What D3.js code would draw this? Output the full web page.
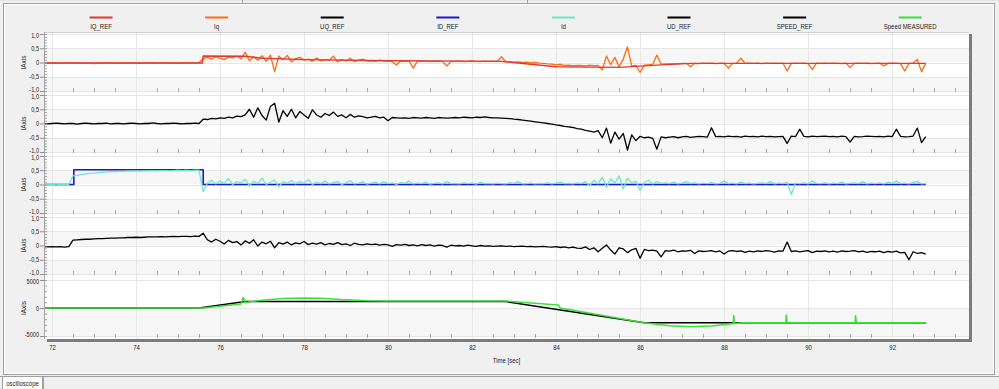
<!DOCTYPE html>
<html><head><meta charset="utf-8">
<script src="https://cdn.jsdelivr.net/npm/d3@7"></script>
<style>
html,body{margin:0;padding:0;background:#f0f0f0;overflow:hidden}
svg{display:block}
text{font-family:"Liberation Sans","Arial",sans-serif;fill:#222;font-size:7.5px}
</style></head><body><svg id="c" width="999" height="389"></svg>
<script>
// ---------- DATA ----------
const seriesNames = ["IQ_REF","Iq","UQ_REF","ID_REF","Id","UD_REF","SPEED_REF","Speed MEASURED"];
const seriesColors = ["#e03a2f","#ff6a13","#000000","#1a1ad6","#6de9c8","#000000","#000000","#3be03b"];
const xTicks = [72,74,76,78,80,82,84,86,88,90,92];
const yTicksUnit = [-1,-0.5,0,0.5,1];
const yTicksSpeed = [-5000,0,5000];
const axisTitleY = "IAxis";
const axisTitleX = "Time [sec]";
const tabLabel = "oscilloscope";

// dense sampled signals: start time and sample spacing (sec)
const T0 = 71.8, DT = 0.1;
const iq = [
-0.02,-0.02,-0.01,-0.02,-0.03,-0.02,-0.02,-0.01,-0.02,-0.03,
-0.02,-0.02,-0.04,-0.02,-0.02,-0.01,-0.02,-0.03,-0.02,-0.02,
-0.02,-0.01,-0.02,-0.03,-0.02,-0.02,-0.01,-0.02,-0.02,-0.01,
-0.02,-0.02,-0.03,-0.01,-0.02,-0.02,-0.02,-0.01,
0.14,0.18,0.12,0.2,0.15,0.1,0.19,0.16,0.22,0.13,
0.36,0.06,0.2,0.08,0.24,0.04,0.26,-0.32,0.22,0.1,
0.25,0.02,0.14,0.18,0.08,0.12,0.04,0.16,0.06,0.1,
0.08,0.22,0.02,0.1,0.05,0.15,0.03,0.08,0.12,0.05,
0.06,0.04,0.08,0.05,0.06,0.03,-0.09,0.05,0.04,0.06,
-0.2,0.05,0.04,0.05,0.03,0.04,0.05,0.03,-0.12,0.04,
0.04,0.05,0.03,0.04,0.06,0.04,0.03,0.05,0.04,0.05,
0.04,0.2,0.03,0.02,0.01,0.02,0.0,0.01,-0.01,0.0,
-0.02,-0.03,-0.05,-0.06,-0.08,-0.07,-0.1,-0.09,-0.11,-0.1,
-0.1,-0.12,-0.09,-0.11,-0.1,-0.26,0.23,-0.08,0.18,-0.15,
0.12,0.55,-0.12,-0.1,-0.35,-0.09,-0.08,-0.07,0.26,-0.06,
-0.05,-0.05,-0.04,-0.04,-0.03,-0.03,-0.15,-0.03,-0.04,-0.02,
-0.03,-0.02,-0.04,-0.03,-0.02,-0.2,-0.03,-0.02,0.15,-0.03,
-0.02,-0.03,-0.02,-0.04,-0.02,-0.03,-0.02,-0.03,-0.02,-0.3,
-0.03,-0.02,-0.03,-0.02,-0.04,-0.25,-0.02,-0.03,-0.02,-0.03,
-0.02,-0.03,-0.04,-0.02,-0.18,-0.03,-0.02,-0.03,-0.02,-0.04,
-0.03,-0.02,-0.12,-0.03,-0.02,-0.03,-0.04,-0.3,-0.03,-0.02,
0.11,-0.32,-0.03];
const uqRef = [
0.0,-0.01,0.0,0.01,0.0,-0.01,0.0,0.0,-0.02,0.0,
0.01,0.0,-0.01,0.0,0.0,0.01,-0.01,0.0,0.0,-0.01,
0.0,0.01,0.0,-0.01,0.0,0.0,0.02,0.0,-0.01,0.0,
0.0,0.01,0.0,-0.01,0.0,0.0,0.01,0.0,
0.15,0.14,0.18,0.16,0.2,0.18,0.22,0.2,0.26,0.24,
0.3,0.5,0.22,0.55,0.28,0.12,0.6,0.71,0.05,0.45,
0.25,0.5,0.2,0.42,0.3,0.18,0.48,0.3,0.22,0.35,
0.28,0.4,0.25,0.3,0.2,0.32,0.22,0.27,0.24,0.2,
0.22,0.25,0.2,0.22,0.1,0.21,0.2,0.19,0.2,0.18,
0.21,0.2,0.19,0.21,0.2,0.18,0.21,0.2,0.19,0.2,
0.21,0.2,0.22,0.21,0.2,0.22,0.21,0.23,0.21,0.2,
0.2,0.19,0.18,0.17,0.15,0.14,0.12,0.1,0.08,0.06,
0.04,0.02,0.0,-0.02,-0.05,-0.07,-0.1,-0.12,-0.14,-0.18,
-0.2,-0.24,-0.27,-0.3,-0.25,-0.5,-0.16,-0.69,-0.3,-0.55,
-0.35,-0.93,-0.4,-0.6,-0.45,-0.5,-0.48,-0.52,-0.9,-0.47,
-0.5,-0.48,-0.46,-0.5,-0.47,-0.45,-0.49,-0.47,-0.45,-0.46,
-0.48,-0.15,-0.46,-0.45,-0.47,-0.44,-0.46,-0.45,-0.48,-0.44,
-0.46,-0.45,-0.47,-0.44,-0.46,-0.45,-0.47,-0.46,-0.45,-0.7,
-0.44,-0.46,-0.2,-0.45,-0.47,-0.44,-0.46,-0.45,-0.44,-0.46,
-0.45,-0.47,-0.44,-0.46,-0.65,-0.45,-0.47,-0.46,-0.44,-0.45,
-0.46,-0.45,-0.47,-0.44,-0.46,-0.2,-0.45,-0.47,-0.46,-0.44,
-0.16,-0.67,-0.46];
const id = [
0.0,0.01,0.0,-0.01,0.0,0.01,0.0,
0.3,0.32,0.35,0.37,0.39,0.4,0.42,0.43,0.44,0.45,
0.45,0.46,0.46,0.47,0.47,0.48,0.47,0.48,0.48,0.49,
0.48,0.49,0.49,0.48,0.49,0.5,0.49,0.5,0.49,0.5,0.5,
-0.25,0.05,0.15,0.02,0.12,0.04,0.2,0.0,0.1,0.06,
0.18,-0.05,0.12,0.03,0.22,0.0,0.08,0.15,-0.08,0.1,
0.04,0.14,0.02,0.1,0.05,0.18,0.0,0.08,0.03,0.12,
0.02,0.07,0.1,0.0,0.06,0.13,0.02,0.05,0.09,0.01,
0.05,0.08,0.02,0.1,0.03,0.06,0.0,0.07,0.04,0.12,
0.02,0.05,0.03,0.08,0.01,0.04,0.06,0.02,0.1,0.03,
0.04,0.02,0.06,0.03,0.05,0.01,0.08,0.03,0.04,0.02,
0.05,0.03,0.02,0.06,0.04,0.1,0.02,0.03,0.05,0.02,
0.04,0.03,0.06,0.02,0.05,0.08,0.03,0.04,0.02,0.06,
0.03,0.1,-0.05,0.15,0.02,0.25,-0.1,0.2,0.05,0.3,
-0.15,0.22,0.05,0.12,-0.2,0.08,0.15,0.02,0.1,0.04,
0.06,0.03,0.08,0.02,0.05,0.1,0.03,0.06,0.02,0.05,
0.03,0.07,0.02,0.04,0.12,0.03,0.05,0.02,0.08,0.03,
0.05,0.02,0.04,0.06,0.03,0.1,0.02,0.05,0.03,0.08,
-0.35,0.05,0.03,0.06,0.02,0.12,0.04,0.03,0.06,0.02,
0.05,0.03,0.08,0.02,0.04,0.06,0.03,0.1,0.02,0.05,
0.03,0.06,0.02,0.08,0.04,0.12,0.03,0.05,0.02,0.07,
0.1,0.02,0.04];
const udRef = [
-0.04,-0.05,-0.04,-0.05,-0.04,-0.06,-0.04,
0.19,0.2,0.21,0.22,0.22,0.23,0.24,0.24,0.25,0.26,
0.26,0.27,0.27,0.28,0.28,0.29,0.28,0.29,0.3,0.3,
0.3,0.31,0.3,0.31,0.32,0.31,0.32,0.32,0.31,0.33,0.32,
0.43,0.2,0.12,0.22,0.15,0.05,0.18,0.1,0.14,0.02,
0.16,0.08,0.2,-0.02,0.12,0.06,0.15,-0.08,0.1,0.05,
0.12,0.02,0.09,0.06,0.14,0.03,0.08,0.05,0.1,0.02,
0.07,0.04,0.1,0.03,0.06,0.0,0.08,0.04,0.02,0.06,
0.03,0.05,0.01,0.04,0.02,-0.03,0.03,0.01,0.04,0.0,
0.02,-0.01,0.03,0.0,0.02,-0.02,0.01,0.0,-0.06,0.01,
-0.01,0.0,-0.02,0.01,-0.01,-0.03,0.0,-0.02,-0.01,-0.03,
-0.02,-0.01,-0.03,-0.02,-0.04,-0.03,-0.02,-0.04,-0.03,-0.05,
-0.04,-0.03,-0.05,-0.06,-0.04,-0.07,-0.05,-0.08,-0.06,-0.09,
-0.1,-0.05,-0.14,-0.08,-0.22,-0.1,0.02,-0.16,-0.3,-0.08,
-0.12,-0.25,-0.15,-0.1,-0.45,-0.14,-0.18,-0.16,-0.2,-0.4,
-0.18,-0.2,-0.16,-0.22,-0.19,-0.2,-0.17,-0.28,-0.19,-0.21,
-0.2,-0.18,-0.22,-0.19,-0.3,-0.2,-0.18,-0.21,-0.19,-0.24,
-0.2,-0.22,-0.19,-0.21,-0.18,-0.2,-0.23,-0.19,-0.2,0.12,
-0.21,-0.19,-0.22,-0.2,-0.18,-0.25,-0.2,-0.21,-0.19,-0.22,
-0.2,-0.23,-0.19,-0.21,-0.2,-0.18,-0.22,-0.2,-0.24,-0.21,
-0.22,-0.2,-0.25,-0.21,-0.23,-0.2,-0.26,-0.24,-0.5,-0.22,
-0.28,-0.25,-0.3];

// reference signals as (time, value) breakpoints
const iqRefT = [71.8,75.58,75.6,76.6,77.0,78.0,80.0,82.0,82.7,84.0,85.5,86.3,87.2,92.8];
const iqRefV = [-0.02,-0.02,0.23,0.22,0.15,0.1,0.06,0.05,0.04,-0.15,-0.17,-0.1,-0.03,-0.03];
const idRefT = [71.8,72.52,72.52,75.6,75.6,92.8];
const idRefV = [0,0,0.52,0.52,0,0];
const speedRefT = [71.8,75.5,76.6,82.8,86.1,92.8];
const speedRefV = [0,0,1150,1150,-2650,-2650];
const speedMeasT = [71.8,75.6,76.0,76.5,76.55,76.6,77.0,77.5,78.0,78.4,78.9,79.5,80.0,82.8,84.05,84.1,86.1,86.7,87.2,87.7,88.07,88.22,88.23,88.25,88.45,89.47,89.48,89.5,91.12,91.13,91.15,92.8];
const speedMeasV = [0,0,300,700,1900,1000,1400,1700,1800,1750,1500,1300,1250,1250,530,0,-2620,-3160,-3340,-3200,-2910,-2780,-1370,-2760,-2620,-2620,-1250,-2620,-2620,-1370,-2620,-2620];

// ---------- LAYOUT ----------
const svg = d3.select("#c");
const plot = {l:44, r:969, t:32, b:339};
const x = d3.scaleLinear().domain([71.81, 93.83]).range([plot.l, plot.r]);
const TEXT_SQUEEZE = 0.8;

const fmtUnit = v => v === 0 ? "0" : d3.format(".1f")(v).replace(".", ",").replace("\u2212", "-");
const fmtSpeed = v => d3.format("d")(v).replace("\u2212", "-");

const panels = [
  {top:34,  bottom:91,  domain:[-1,1], ticks:yTicksUnit, minor:0.1, fmt:fmtUnit, tickY:91},
  {top:95,  bottom:152, domain:[-1,1], ticks:yTicksUnit, minor:0.1, fmt:fmtUnit, tickY:152},
  {top:156, bottom:213, domain:[-1,1], ticks:yTicksUnit, minor:0.1, fmt:fmtUnit, tickY:213},
  {top:217, bottom:274, domain:[-1,1], ticks:yTicksUnit, minor:0.1, fmt:fmtUnit, tickY:274},
  {top:280, bottom:336, domain:[-5000,5000], ticks:yTicksSpeed, minor:1000, fmt:fmtSpeed, tickY:337}
];
panels.forEach(p => p.y = d3.scaleLinear().domain(p.domain).range([p.bottom, p.top]));

// ---------- FRAME ----------
svg.append("rect").attr("width",999).attr("height",389).attr("fill","#f0f0f0");
svg.append("line").attr("x1",0).attr("x2",999).attr("y1",0.5).attr("y2",0.5).attr("stroke","#e2e2e2");
[242,527].forEach(xx => svg.append("line").attr("x1",xx+0.5).attr("x2",xx+0.5).attr("y1",0).attr("y2",3).attr("stroke","#a0a0a0"));
svg.append("rect").attr("x",3.5).attr("y",3.5).attr("width",991).attr("height",371).attr("fill","none").attr("stroke","#a0a0a0");
svg.append("rect").attr("x",4.5).attr("y",4.5).attr("width",989).attr("height",369).attr("fill","none").attr("stroke","#ffffff");
svg.append("line").attr("x1",0).attr("x2",999).attr("y1",376.5).attr("y2",376.5).attr("stroke","#a0a0a0");
svg.append("line").attr("x1",43.5).attr("x2",43.5).attr("y1",376).attr("y2",389).attr("stroke","#a0a0a0");
svg.append("rect").attr("x",2.5).attr("y",376.5).attr("width",40).attr("height",13).attr("fill","#ffffff").attr("stroke","#a0a0a0");
svg.append("text").attr("x",22.5).attr("y",386).attr("text-anchor","middle").text(tabLabel);

// shadow + plot bg
svg.append("rect").attr("x",plot.r).attr("y",plot.t+2).attr("width",3).attr("height",plot.b-plot.t+1).attr("fill","#7c7c7c");
svg.append("rect").attr("x",plot.l+3).attr("y",plot.b).attr("width",plot.r-plot.l).attr("height",3).attr("fill","#7c7c7c");
svg.append("rect").attr("x",plot.l).attr("y",plot.t).attr("width",plot.r-plot.l).attr("height",plot.b-plot.t).attr("fill","#ffffff");

// bands & horizontal gridlines
panels.forEach(p => {
  const tk = p.ticks.slice().sort((a,b)=>b-a);
  for (let k=0;k<tk.length-1;k++){
    svg.append("rect").attr("x",plot.l).attr("width",plot.r-plot.l)
      .attr("y",p.y(tk[k])).attr("height",p.y(tk[k+1])-p.y(tk[k]))
      .attr("fill", k%2 ? "#f6f6f6" : "#ffffff");
  }
  tk.forEach(t => svg.append("line").attr("x1",plot.l).attr("x2",plot.r)
      .attr("y1",Math.round(p.y(t))+0.5).attr("y2",Math.round(p.y(t))+0.5).attr("stroke","#e6e6e6"));
});
// vertical gridlines
svg.append("g").selectAll("line").data(xTicks).join("line")
  .attr("x1",d=>Math.round(x(d))+0.5).attr("x2",d=>Math.round(x(d))+0.5)
  .attr("y1",plot.t).attr("y2",plot.b).attr("stroke","#e6e6e6");
// plot top border
svg.append("line").attr("x1",plot.l).attr("x2",plot.r).attr("y1",plot.t+0.5).attr("y2",plot.t+0.5).attr("stroke","#cfcfcf");

// minor x ticks at each panel bottom
const minorX = d3.range(72.5, 93.6, 0.5).filter(v => Math.abs(v/2 - Math.round(v/2)) > 0.01);
panels.forEach(p => {
  svg.append("g").selectAll("line").data(minorX).join("line")
    .attr("x1",d=>Math.round(x(d))+0.5).attr("x2",d=>Math.round(x(d))+0.5)
    .attr("y1",p.tickY-3).attr("y2",p.tickY+1).attr("stroke","#a8a8a8");
});

// ---------- SERIES ----------
svg.append("clipPath").attr("id","pc").append("rect")
  .attr("x",plot.l).attr("y",plot.t).attr("width",plot.r-plot.l).attr("height",plot.b-plot.t);
const dense = arr => arr.map((v,i) => [T0 + i*DT, v]);
const pairs = (T,V) => T.map((t,i) => [t, V[i]]);
function draw(p, data, color, w){
  const line = d3.line().x(d=>x(d[0])).y(d=>p.y(d[1]));
  svg.append("path").attr("clip-path","url(#pc)").attr("d",line(data))
    .attr("fill","none").attr("stroke",color).attr("stroke-width",w).attr("stroke-linejoin","round");
}
draw(panels[0], dense(iq), seriesColors[1], 1.3);
draw(panels[0], pairs(iqRefT,iqRefV), seriesColors[0], 1.4);
draw(panels[1], dense(uqRef), seriesColors[2], 1.3);
draw(panels[2], pairs(idRefT,idRefV), seriesColors[3], 1.6);
draw(panels[2], dense(id), seriesColors[4], 1.3);
draw(panels[3], dense(udRef), seriesColors[5], 1.3);
draw(panels[4], pairs(speedRefT,speedRefV), seriesColors[6], 1.5);
draw(panels[4], pairs(speedMeasT,speedMeasV), seriesColors[7], 1.5);

// ---------- AXES ----------
svg.append("line").attr("x1",plot.l+0.5).attr("x2",plot.l+0.5).attr("y1",plot.t).attr("y2",plot.b)
  .attr("stroke","#a8a8a8");
panels.forEach(p => {
  const g = svg.append("g").attr("transform",`translate(${plot.l},0)`);
  g.call(d3.axisLeft(p.y).tickValues(p.ticks).tickFormat(p.fmt).tickSize(4).tickPadding(1));
  g.select(".domain").remove();
  g.selectAll(".tick line").attr("stroke","#909090");
  g.selectAll("text").attr("font-family",null).attr("font-size",null).attr("fill","#222")
    .style("font-size","7px")
    .attr("dy", d => d === p.domain[1] ? "0.55em" : (d === p.domain[0] ? "0.08em" : "0.32em"));
  const minorVals = d3.range(p.domain[0], p.domain[1] + p.minor/2, p.minor);
  const gm = svg.append("g").attr("transform",`translate(${plot.l},0)`);
  gm.call(d3.axisLeft(p.y).tickValues(minorVals).tickFormat("").tickSize(-3));
  gm.select(".domain").remove();
  gm.selectAll(".tick line").attr("stroke","#a0a0a0");
  svg.append("text").attr("transform",`translate(23,${(p.top+p.bottom)/2}) rotate(-90)`)
    .attr("text-anchor","middle").attr("dy","0.35em").style("font-size","8px").text(axisTitleY);
});
const gx = svg.append("g").attr("transform",`translate(0,${plot.b+2})`);
gx.call(d3.axisBottom(x).tickValues(xTicks).tickSize(0).tickPadding(4).tickFormat(d3.format("d")));
gx.select(".domain").remove();
gx.selectAll("text").attr("font-family",null).attr("font-size",null).attr("fill","#222");
svg.append("text").attr("x",(plot.l+plot.r)/2).attr("y",363).attr("text-anchor","middle").text(axisTitleX);

// ---------- LEGEND ----------
const lg = svg.append("g").selectAll("g").data(seriesNames).join("g")
  .attr("transform",(d,i)=>`translate(${101 + i*115.6},0)`);
lg.append("line").attr("x1",-11.5).attr("x2",11.5).attr("y1",17.5).attr("y2",17.5)
  .attr("stroke",(d,i)=>seriesColors[i]).attr("stroke-width",2);
lg.append("text").attr("y",28.5).attr("text-anchor","middle").text(d=>d);

// narrow the glyphs (the original uses a condensed UI font)
svg.selectAll("text").each(function(){
  const t = d3.select(this);
  const tx = +t.attr("x") || 0, ty = +t.attr("y") || 0;
  const tr = t.attr("transform") || "";
  t.attr("x", null).attr("y", null)
   .attr("transform", `${tr} translate(${tx},${ty}) scale(${TEXT_SQUEEZE},1)`);
});
</script></body></html>
